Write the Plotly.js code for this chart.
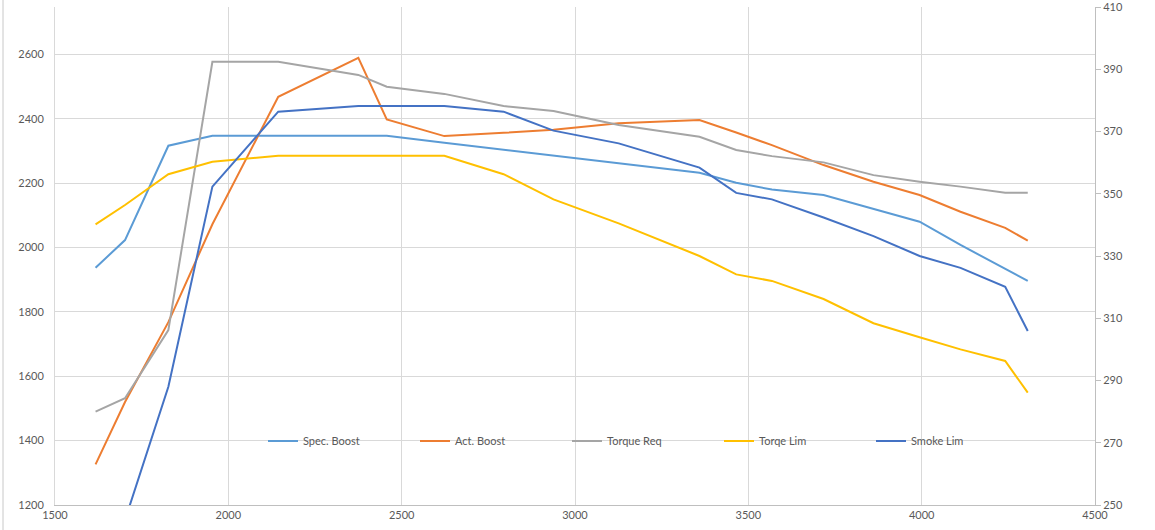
<!DOCTYPE html>
<html>
<head>
<meta charset="utf-8">
<script src="https://cdn.plot.ly/plotly-3.0.1.min.js"></script>
<style>html,body{margin:0;padding:0;background:#fff;}#chart{width:1155px;height:530px;}</style>
</head>
<body>
<div id="chart"></div>
<script>
const rpm = [1617, 1702, 1827, 1954, 2144, 2375, 2457, 2623, 2794, 2938, 3126, 3359, 3465, 3568, 3717, 3861, 3994, 4112, 4241, 4306];
const specBoost = [1937, 2023, 2316, 2347, 2347, 2347, 2347, 2325, 2303, 2285, 2261, 2232, 2201, 2180, 2163, 2121, 2080, 2008, 1935, 1896];
const actBoost = [1326, 1520, 1768, 2072, 2468, 2589, 2398, 2346, 2356, 2366, 2386, 2396, 2357, 2318, 2256, 2204, 2163, 2111, 2061, 2021];
const torqueReq = [280.0, 284.3, 306.2, 392.4, 392.4, 388.2, 384.4, 382.1, 378.2, 376.6, 372.1, 368.3, 364.1, 362.1, 360.1, 356.0, 353.9, 352.3, 350.3, 350.3];
const torqueLim = [340.2, 346.4, 356.3, 360.3, 362.2, 362.2, 362.2, 362.2, 356.3, 348.2, 340.5, 330.0, 324.1, 322.0, 316.2, 308.4, 303.9, 300.0, 296.3, 286.1];
const smokeLim = [235.0, 245.2, 288.0, 352.3, 376.4, 378.2, 378.2, 378.2, 376.4, 370.3, 366.2, 358.4, 350.3, 348.2, 342.4, 336.4, 330.0, 326.2, 320.1, 305.9];
const seriesNames = ['Spec. Boost', 'Act. Boost', 'Torque Req', 'Torqe Lim', 'Smoke Lim'];
const xTicks = [1500, 2000, 2500, 3000, 3500, 4000, 4500];
const leftTicks = [1200, 1400, 1600, 1800, 2000, 2200, 2400, 2600];
const rightTicks = [250, 270, 290, 310, 330, 350, 370, 390, 410];

const font = 'Lato, "Open Sans", "Liberation Sans", sans-serif';
const mk = (y, name, color, axis) => ({
  x: rpm, y: y, name: name, type: 'scatter', mode: 'lines',
  yaxis: axis, line: {color: color, width: 2}, cliponaxis: true
});
const data = [
  mk(specBoost, seriesNames[0], '#5B9BD5', 'y'),
  mk(actBoost, seriesNames[1], '#ED7D31', 'y'),
  mk(torqueReq, seriesNames[2], '#A5A5A5', 'y2'),
  mk(torqueLim, seriesNames[3], '#FFC000', 'y2'),
  mk(smokeLim, seriesNames[4], '#4472C4', 'y2')
];
const layout = {
  width: 1155, height: 530,
  margin: {l: 55, r: 60, t: 7, b: 25, pad: 0},
  paper_bgcolor: '#ffffff', plot_bgcolor: '#ffffff',
  font: {family: font, size: 11, color: '#595959'},
  showlegend: true,
  legend: {orientation: 'h', x: 0.2, y: 0.1285, xanchor: 'left', yanchor: 'middle',
    bgcolor: 'rgba(0,0,0,0)', entrywidth: 107, entrywidthmode: 'pixels', itemwidth: 30,
    font: {family: font, size: 11, color: '#595959'}, traceorder: 'normal'},
  xaxis: {range: [1500, 4500], tickvals: xTicks, ticktext: xTicks.map(String),
    showgrid: true, gridcolor: '#d9d9d9', gridwidth: 1, zeroline: false,
    showline: true, linecolor: '#bfbfbf', linewidth: 1, ticks: '', ticklen: 0,
    tickfont: {family: font, size: 11, color: '#595959'}},
  yaxis: {range: [1200, 2747], tickvals: leftTicks, ticktext: leftTicks.map(String),
    showgrid: true, gridcolor: '#d9d9d9', gridwidth: 1, zeroline: false,
    showline: true, linecolor: '#d9d9d9', linewidth: 1, ticks: '',
    ticklabelstandoff: 8,
    tickfont: {family: font, size: 11, color: '#595959'}},
  yaxis2: {range: [250, 410.02], tickvals: rightTicks, ticktext: rightTicks.map(String),
    overlaying: 'y', side: 'right', showgrid: false, zeroline: false,
    showline: true, linecolor: '#bfbfbf', linewidth: 1, ticks: 'outside', ticklen: 5,
    ticklabeloverflow: 'allow',
    tickcolor: '#bfbfbf', tickfont: {family: font, size: 11, color: '#595959'}},
  shapes: [
    {type: 'line', xref: 'paper', yref: 'paper', x0: -0.0500, x1: -0.0500, y0: -0.06, y1: 1.02,
      line: {color: '#c8c8c8', width: 1}},
    {type: 'line', xref: 'paper', yref: 'paper', x0: 1.0771, x1: 1.0771, y0: -0.06, y1: 1.02,
      line: {color: '#d0d0d0', width: 1}}
  ]
};
Plotly.newPlot('chart', data, layout, {displayModeBar: false, staticPlot: true});
</script>
</body>
</html>
